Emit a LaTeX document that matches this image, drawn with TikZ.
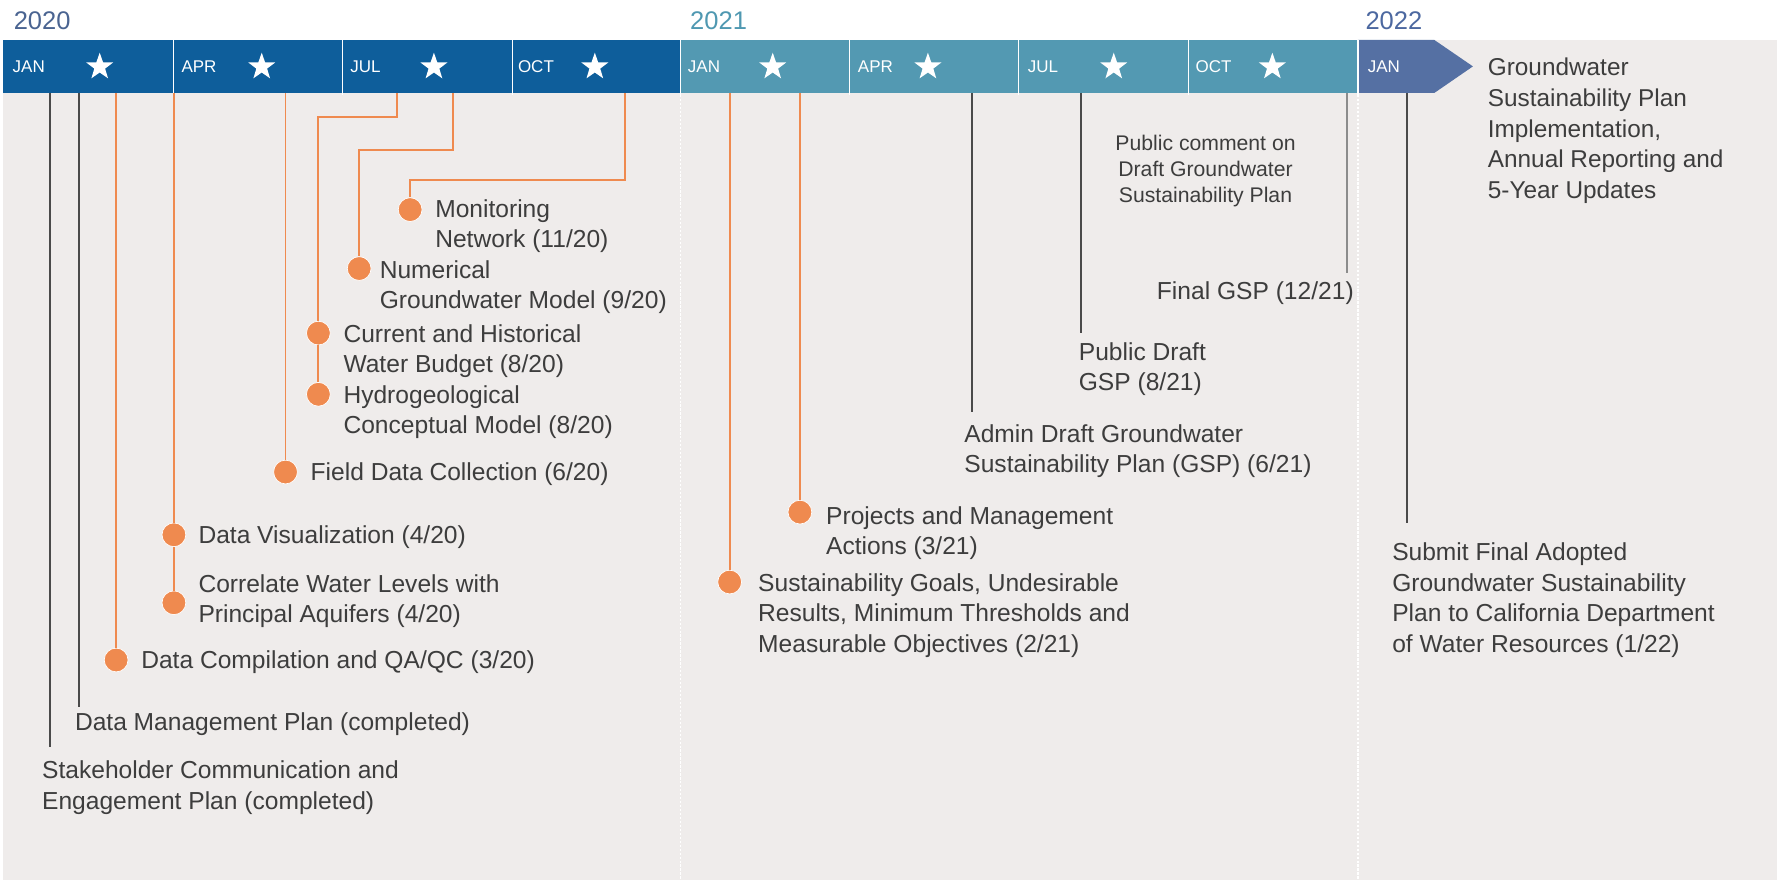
\documentclass[tikz,border=0pt]{standalone}
\usepackage{fontspec}
\setmainfont{Liberation Sans}
\usetikzlibrary{shapes.geometric}
\definecolor{bg}{RGB}{239,236,235}
\definecolor{barblue}{RGB}{14,94,155}
\definecolor{barteal}{RGB}{83,153,178}
\definecolor{barslate}{RGB}{85,112,163}
\definecolor{orng}{RGB}{239,138,79}
\definecolor{txt}{RGB}{61,61,61}
\definecolor{gline}{RGB}{74,74,74}
\definecolor{gline2}{RGB}{140,140,140}
\definecolor{yr20}{RGB}{74,100,145}
\definecolor{yr21}{RGB}{79,152,177}
\definecolor{yr22}{RGB}{76,104,160}
\begin{document}
\begin{tikzpicture}[x=1pt,y=-1pt,
  lbl/.style={font=\fontsize{21.7}{26.5}\selectfont, text=txt, inner sep=0pt, align=left, anchor=north west},
  lbl3/.style={font=\fontsize{21.7}{27}\selectfont, text=txt, inner sep=0pt, align=left, anchor=north west},
  smalllbl/.style={font=\fontsize{18.7}{23}\selectfont, text=txt, inner sep=0pt, align=center, anchor=north},
  biglbl/.style={font=\fontsize{21.5}{27.2}\selectfont, text=txt, inner sep=0pt, align=left, anchor=north west},
  mon/.style={font=\fontsize{15}{17}\selectfont, text=white, inner sep=0pt, anchor=west},
  yr/.style={font=\fontsize{22.5}{26}\selectfont, inner sep=0pt, anchor=west},
  starmark/.style={star, star points=5, star point ratio=2.5, fill=white, draw=none, inner sep=0pt, minimum size=25pt},
  dot/.style={circle, fill=orng, draw=white, line width=0.6pt, inner sep=0pt, minimum size=21pt},
  oline/.style={draw=orng, line width=1.7pt},
  kline/.style={draw=gline, line width=1.7pt},
  kline2/.style={draw=gline2, line width=1.7pt},
  sep/.style={draw=white, line width=1.1pt},
  yearline/.style={draw=white, line width=1.3pt, dash pattern=on 2pt off 1.5pt}
]
\useasboundingbox (0,0) rectangle (1568.4,776.7);
\fill[white] (0,0) rectangle (1568.4,776.7);
\fill[bg] (2.5,35.3) rectangle (1568.4,776.7);

% timeline bar
\fill[barblue] (2.5,35.3) rectangle (600.5,82);
\fill[barteal] (600.5,35.3) rectangle (1198.5,82);
\fill[barslate] (1198.5,35.3) -- (1266,35.3) -- (1300,58.6) -- (1266,82) -- (1198.5,82) -- cycle;
\foreach \sx in {153,302,452,600.5,750,899,1049,1198.5}{
  \draw[sep] (\sx,35.3) -- (\sx,84);
}
\draw[yearline] (600.5,84) -- (600.5,776.7);
\draw[yearline] (1198.5,84) -- (1198.5,776.7);

% years
\node[yr, text=yr20] (y20) at (12,18.5) {2020};
\node[yr, text=yr21] (y21) at (609,18.5) {2021};
\node[yr, text=yr22] (y22) at (1205,18.5) {2022};

% months
\node[mon] (m1) at (11,59) {JAN};
\node[mon] (m2) at (160,59) {APR};
\node[mon] (m3) at (309,59) {JUL};
\node[mon] (m4) at (457,59) {OCT};
\node[mon] (m5) at (607,59) {JAN};
\node[mon] (m6) at (757,59) {APR};
\node[mon] (m7) at (907,59) {JUL};
\node[mon] (m8) at (1055,59) {OCT};
\node[mon] (m9) at (1207,59) {JAN};

% stars
\node[starmark] (s1) at (88,59) {};
\node[starmark] (s2) at (231,59) {};
\node[starmark] (s3) at (383,59) {};
\node[starmark] (s4) at (525,59) {};
\node[starmark] (s5) at (682,59) {};
\node[starmark] (s6) at (819,59) {};
\node[starmark] (s7) at (983,59) {};
\node[starmark] (s8) at (1123,59) {};

% connector tops on the bar
\coordinate (tsh) at (44,82);
\coordinate (tdm) at (70,82);
\coordinate (tdc) at (102.5,82);
\coordinate (tdv) at (153.5,82);
\coordinate (tfd) at (252,82);
\coordinate (thy) at (350,82);
\coordinate (tng) at (399.6,82);
\coordinate (tmn) at (552,82);
\coordinate (tsg) at (644,82);
\coordinate (tpm) at (706,82);
\coordinate (tad) at (858,82);
\coordinate (tpd) at (954,82);
\coordinate (tfg) at (1189,82);
\coordinate (tsf) at (1242,82);

% free ends of grey connectors
\coordinate (esh) at (44,659);
\coordinate (edm) at (70,624);
\coordinate (ead) at (858,363.6);
\coordinate (epd) at (954,294);
\coordinate (efg) at (1189,241);
\coordinate (esf) at (1242,462);

% orange dots
\node[dot] (ddc) at (102.5,582.5) {};
\node[dot] (ddv) at (153.5,472) {};
\node[dot] (dcw) at (153.5,532) {};
\node[dot] (dfd) at (252,416.6) {};
\node[dot] (dch) at (281,294) {};
\node[dot] (dhc) at (281,348) {};
\node[dot] (dng) at (317,237) {};
\node[dot] (dmn) at (362,185) {};
\node[dot] (dsg) at (644,513.7) {};
\node[dot] (dpm) at (706,452) {};

% orange connectors
\draw[oline] (tdc) -- (ddc);
\draw[oline] (tdv) -- (ddv);
\draw[oline] (ddv) -- (dcw);
\draw[oline] (tfd) -- (dfd);
\draw[oline] (thy) -- (350,103) -- (281,103) -- (dch);
\draw[oline] (dch) -- (dhc);
\draw[oline] (tng) -- (399.6,132) -- (317,132) -- (dng);
\draw[oline] (tmn) -- (552,158.5) -- (362,158.5) -- (dmn);
\draw[oline] (tsg) -- (dsg);
\draw[oline] (tpm) -- (dpm);

% grey connectors
\draw[kline] (tsh) -- (esh);
\draw[kline] (tdm) -- (edm);
\draw[kline] (tad) -- (ead);
\draw[kline] (tpd) -- (epd);
\draw[kline2] (tfg) -- (efg);
\draw[kline] (tsf) -- (esf);

% labels
\node[lbl] (lsh) at (37,671.6) {Stakeholder Communication and\\Engagement Plan (completed)};
\node[lbl] (ldm) at (66,629) {Data Management Plan (completed)};
\node[lbl] (ldc) at (124.5,574.5) {Data Compilation and QA/QC (3/20)};
\node[lbl] (ldv) at (175,464) {Data Visualization (4/20)};
\node[lbl] (lcw) at (175,507) {Correlate Water Levels with\\Principal Aquifers (4/20)};
\node[lbl] (lfd) at (274,408.6) {Field Data Collection (6/20)};
\node[lbl] (lch) at (303,286) {Current and Historical\\Water Budget (8/20)};
\node[lbl] (lhc) at (303,340.6) {Hydrogeological\\Conceptual Model (8/20)};
\node[lbl] (lng) at (335,230) {Numerical\\Groundwater Model (9/20)};
\node[lbl] (lmn) at (384,176) {Monitoring\\Network (11/20)};
\node[lbl3] (lsg) at (669,506) {Sustainability Goals, Undesirable\\Results, Minimum Thresholds and\\Measurable Objectives (2/21)};
\node[lbl] (lpm) at (729,446.6) {Projects and Management\\Actions (3/21)};
\node[lbl] (lad) at (851,375) {Admin Draft Groundwater\\Sustainability Plan (GSP) (6/21)};
\node[lbl] (lpd) at (952,302.6) {Public Draft\\GSP (8/21)};
\node[smalllbl] (lpc) at (1064,119.3) {Public comment on\\Draft Groundwater\\Sustainability Plan};
\node[lbl, anchor=north east] (lfg) at (1195,248) {Final GSP (12/21)};
\node[lbl3] (lsf) at (1228.6,479) {Submit Final Adopted\\Groundwater Sustainability\\Plan to California Department\\of Water Resources (1/22)};
\node[biglbl] (lgi) at (1313,50.85) {Groundwater\\Sustainability Plan\\Implementation,\\Annual Reporting and\\5-Year Updates};
\end{tikzpicture}
\end{document}
